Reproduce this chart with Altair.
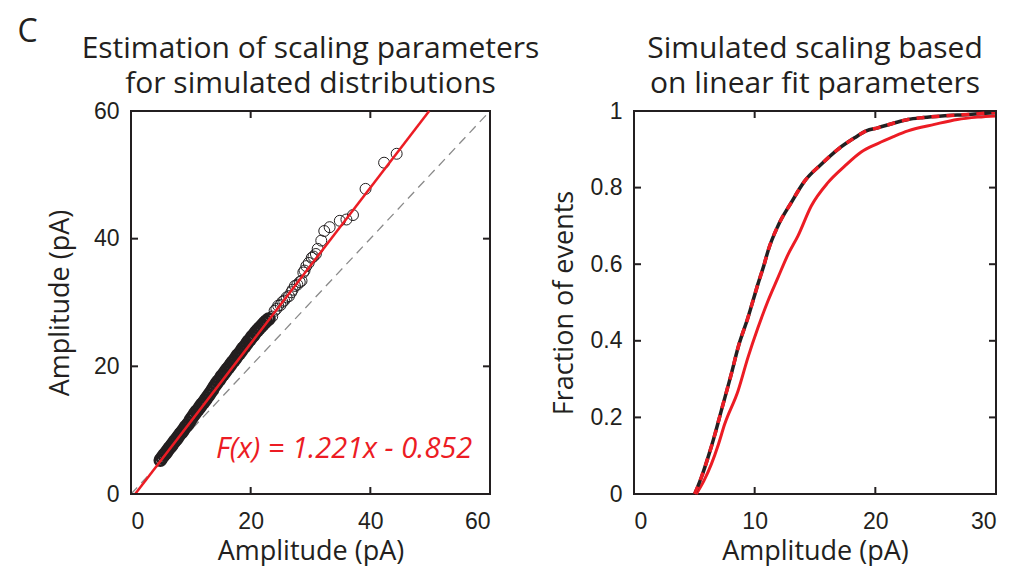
import altair as alt
import pandas as pd

# ---------------- data (left panel: QQ scatter) ----------------
dense_x = [4.9, 5.2, 5.5, 5.8, 6.1, 6.4, 6.7, 7.0, 7.3, 7.6, 7.9, 8.2, 8.5, 8.8, 9.1,
           9.4, 9.7, 10.0, 10.3, 10.6, 10.9, 11.2, 11.5, 11.8, 12.1, 12.4, 12.7, 13.0,
           13.3, 13.6, 13.9, 14.2, 14.5, 14.8, 15.1, 15.4, 15.7, 16.0, 16.3, 16.6, 16.9,
           17.2, 17.5, 17.8, 18.1, 18.4, 18.7, 19.0, 19.3, 19.6, 19.9, 20.2, 20.5, 20.8,
           21.1, 21.4, 21.7, 22.0, 22.3, 22.6, 23.0]
dense_y = [5.3, 5.7, 6.1, 6.4, 6.8, 7.2, 7.5, 7.9, 8.3, 8.6, 9.0, 9.4, 9.7, 10.1, 10.5,
           10.8, 11.2, 11.7, 12.1, 12.5, 12.9, 13.2, 13.6, 14.0, 14.3, 14.7, 15.1, 15.5,
           15.9, 16.3, 16.8, 17.2, 17.6, 17.9, 18.4, 18.7, 19.1, 19.5, 19.8, 20.2, 20.6,
           20.9, 21.3, 21.7, 22.0, 22.4, 22.8, 23.1, 23.5, 23.9, 24.2, 24.6, 24.9, 25.3,
           25.6, 25.9, 26.2, 26.5, 26.8, 27.1, 27.4]
sparse_x = [23.2, 23.6, 24.0, 24.3, 24.6, 25.0, 25.3, 25.6, 26.0, 26.4, 26.8, 27.0, 27.4,
            27.8, 28.2, 28.5, 28.8, 29.0, 29.3, 29.7, 30.2, 30.5, 30.9, 31.2, 31.8, 32.3,
            33.2, 34.9, 36.0, 37.1, 39.2, 42.3, 44.4]
sparse_y = [27.5, 27.8, 28.7, 29.0, 29.5, 29.6, 30.1, 30.3, 30.8, 31.0, 31.6, 32.0, 32.6,
            32.8, 33.2, 33.4, 34.7, 35.0, 35.7, 36.2, 37.0, 37.2, 37.6, 38.4, 39.7, 41.2,
            41.8, 42.8, 43.0, 43.7, 47.8, 51.9, 53.3]
fit_slope = 1.221
fit_intercept = -0.852
fit_label = "F(x) = 1.221x - 0.852"
left_ticks = [0, 20, 40, 60]

# ---------------- data (right panel: cumulative distributions) ----------------
scaled_x = [5.03, 5.6, 6.13, 6.7, 7.23, 8.06, 8.62, 9.44, 10.27, 10.83, 11.1, 11.93,
            13.03, 14.14, 15.52, 16.9, 18.28, 19.25, 20.2, 21.5, 22.7, 24.0, 25.5, 27.7, 30.0]
scaled_y = [0.0, 0.045, 0.095, 0.155, 0.217, 0.313, 0.382, 0.460, 0.548, 0.604, 0.634,
            0.700, 0.761, 0.817, 0.861, 0.900, 0.930, 0.948, 0.956, 0.968, 0.978, 0.983,
            0.987, 0.991, 0.996]
orig_x = [5.16, 5.8, 6.41, 7.0, 7.51, 8.62, 9.44, 10.27, 11.1, 11.93, 12.76, 13.59, 14.69,
          16.07, 17.46, 18.83, 20.2, 21.5, 22.7, 24.9, 26.8, 28.5, 30.0]
orig_y = [0.0, 0.035, 0.078, 0.130, 0.182, 0.269, 0.356, 0.434, 0.504, 0.565, 0.625,
          0.674, 0.752, 0.813, 0.856, 0.893, 0.915, 0.933, 0.948, 0.965, 0.978, 0.984, 0.987]
right_xticks = [0, 10, 20, 30]
right_yticks = [0, 0.2, 0.4, 0.6, 0.8, 1]

RED = "#ec1c24"
BLACK = "#231f20"
TICKFONT = "Liberation Sans"
TXTFONT = "Open Sans"
W1, W2, H = 359, 362, 383
TL = 7


def axis(vals, title, fmt=None, tpad=6, lpad=8):
    kw = dict(values=vals, title=title, ticks=False, domain=False, grid=False,
              labelFont=TICKFONT, labelFontSize=23, labelColor=BLACK, labelPadding=lpad,
              titleFont=TXTFONT, titleFontSize=27, titleFontWeight="normal",
              titleColor=BLACK, titlePadding=tpad)
    if fmt:
        kw["format"] = fmt
    return alt.Axis(**kw)


# ---------------- left panel ----------------
lx = alt.Scale(domain=[0, 60], nice=False)
ly = alt.Scale(domain=[0, 60], nice=False)
AX1 = axis(left_ticks, "Amplitude (pA)", tpad=5, lpad=16)
AY1 = axis(left_ticks, "Amplitude (pA)", tpad=19, lpad=12)


def X1(f="x"):
    return alt.X(f"{f}:Q", scale=lx, axis=AX1)


def Y1(f="y"):
    return alt.Y(f"{f}:Q", scale=ly, axis=AY1)


dense = pd.DataFrame({"x": dense_x, "y": dense_y})
sparse = pd.DataFrame({"x": sparse_x, "y": sparse_y})
x0 = -fit_intercept / fit_slope
x1 = (60 - fit_intercept) / fit_slope
fit = pd.DataFrame({"x": [x0, x1], "y": [0, 60]})
ident = pd.DataFrame({"x": [0, 60], "y": [0, 60]})
lt = pd.DataFrame({"v": left_ticks})

identity = alt.Chart(ident).mark_line(color="#8a8a8a", strokeDash=[9, 6], strokeWidth=1.3).encode(x=X1(), y=Y1())
dense_pts = alt.Chart(dense).mark_point(shape="circle", size=120, color=BLACK, strokeWidth=2.8,
                                        filled=False, opacity=1).encode(x=X1(), y=Y1())
sparse_pts = alt.Chart(sparse).mark_point(shape="circle", size=120, color=BLACK, strokeWidth=1,
                                          filled=False, opacity=1).encode(x=X1(), y=Y1())
fitline = alt.Chart(fit).mark_line(color=RED, strokeWidth=2.5).encode(x=X1(), y=Y1())
label = alt.Chart(pd.DataFrame({"x": [14.2], "y": [5.6], "t": [fit_label]})).mark_text(
    align="left", baseline="alphabetic", font=TXTFONT, fontSize=29, fontStyle="italic", color=RED
).encode(x=X1(), y=Y1(), text="t:N")

tk_b = alt.Chart(lt).mark_rule(color=BLACK, strokeWidth=2).encode(x=X1("v"), y=alt.value(H), y2=alt.value(H - TL))
tk_t = alt.Chart(lt).mark_rule(color=BLACK, strokeWidth=2).encode(x=X1("v"), y=alt.value(0), y2=alt.value(TL))
tk_l = alt.Chart(lt).mark_rule(color=BLACK, strokeWidth=2).encode(y=Y1("v"), x=alt.value(0), x2=alt.value(TL))
tk_r = alt.Chart(lt).mark_rule(color=BLACK, strokeWidth=2).encode(y=Y1("v"), x=alt.value(W1), x2=alt.value(W1 - TL))

left = alt.layer(identity, dense_pts, sparse_pts, fitline, label, tk_b, tk_t, tk_l, tk_r).properties(
    width=W1, height=H,
    title=alt.TitleParams(["Estimation of scaling parameters", "for simulated distributions"],
                          font=TXTFONT, fontSize=30, fontWeight="normal", color=BLACK,
                          anchor="middle", lineHeight=35, offset=1),
)

# ---------------- right panel ----------------
rx = alt.Scale(domain=[0, 30], nice=False)
ry = alt.Scale(domain=[0, 1], nice=False)
AX2 = axis(right_xticks, "Amplitude (pA)", tpad=5, lpad=16)
AY2 = axis(right_yticks, "Fraction of events", fmt="~g", tpad=12, lpad=12)


def X2(f="x"):
    return alt.X(f"{f}:Q", scale=rx, axis=AX2)


def Y2(f="y"):
    return alt.Y(f"{f}:Q", scale=ry, axis=AY2)


sc = pd.DataFrame({"x": scaled_x, "y": scaled_y})
oc = pd.DataFrame({"x": orig_x, "y": orig_y})
orig_line = alt.Chart(oc).mark_line(color=RED, strokeWidth=3, interpolate="monotone").encode(x=X2(), y=Y2())
scaled_black = alt.Chart(sc).mark_line(color=BLACK, strokeWidth=3.5, interpolate="monotone").encode(x=X2(), y=Y2())
scaled_red = alt.Chart(sc).mark_line(color=RED, strokeWidth=3.5, strokeDash=[8, 7],
                                     interpolate="monotone").encode(x=X2(), y=Y2())

rxt = pd.DataFrame({"v": right_xticks})
ryt = pd.DataFrame({"v": right_yticks})
r_b = alt.Chart(rxt).mark_rule(color=BLACK, strokeWidth=2).encode(x=X2("v"), y=alt.value(H), y2=alt.value(H - TL))
r_t = alt.Chart(rxt).mark_rule(color=BLACK, strokeWidth=2).encode(x=X2("v"), y=alt.value(0), y2=alt.value(TL))
r_l = alt.Chart(ryt).mark_rule(color=BLACK, strokeWidth=2).encode(y=Y2("v"), x=alt.value(0), x2=alt.value(TL))
r_r = alt.Chart(ryt).mark_rule(color=BLACK, strokeWidth=2).encode(y=Y2("v"), x=alt.value(W2), x2=alt.value(W2 - TL))

right = alt.layer(orig_line, scaled_black, scaled_red, r_b, r_t, r_l, r_r).properties(
    width=W2, height=H,
    title=alt.TitleParams(["Simulated scaling based", "on linear fit parameters"],
                          font=TXTFONT, fontSize=30, fontWeight="normal", color=BLACK,
                          anchor="middle", lineHeight=35, offset=1),
)

chart = alt.hconcat(
    left, right, spacing=144, bounds="flush",
    title=alt.TitleParams("C", font=TXTFONT, fontSize=32, fontWeight="normal", color=BLACK,
                          anchor="start", frame="bounds", offset=-16, dx=-28),
    padding={"left": 9, "top": 8, "right": 5, "bottom": 1},
    background="white",
).configure_view(stroke=BLACK, strokeWidth=2)

chart.save("out.html", embed_options={"renderer": "svg", "actions": False})
